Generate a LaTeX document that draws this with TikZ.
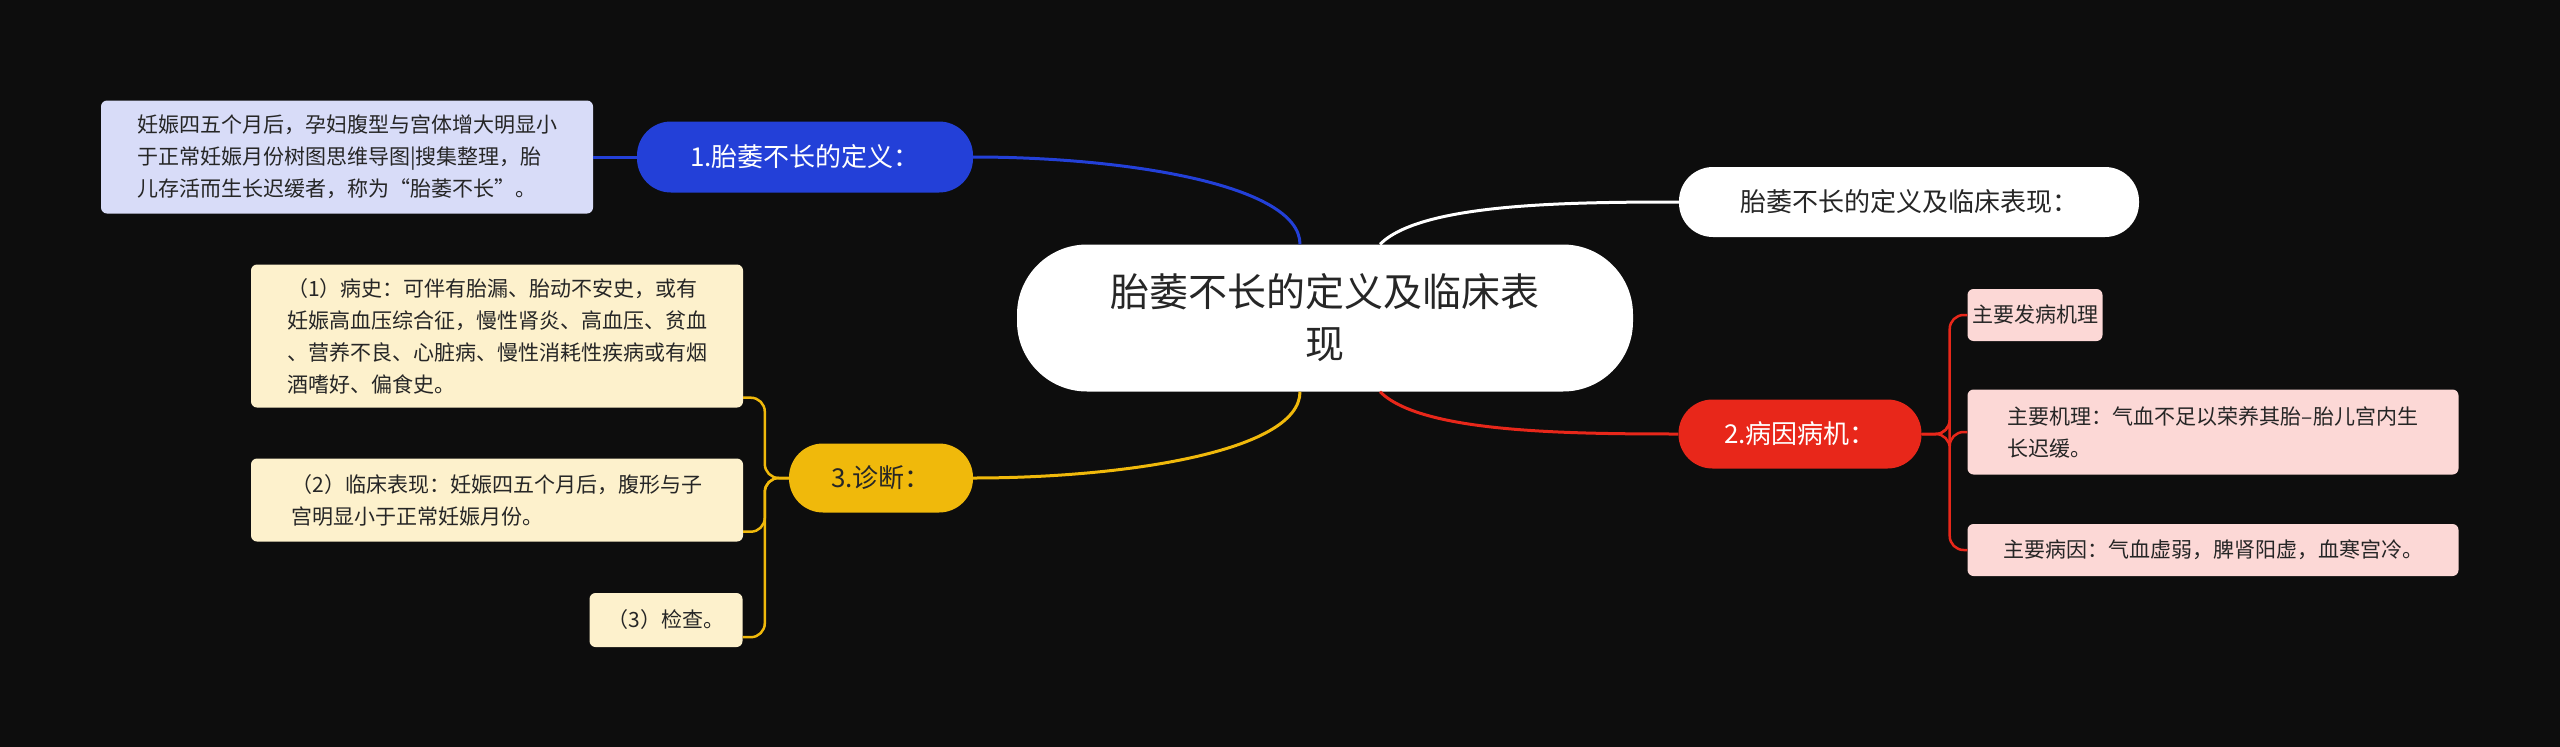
\documentclass[tikz,border=0pt]{standalone}
\usepackage{fontspec}
\setmainfont{Noto Sans CJK SC}
\begin{document}
\begin{tikzpicture}[x=1pt,y=-1pt,
  box/.style={draw=none,inner sep=0pt,align=center,rounded corners=#1},
  pill/.style={box=34pt,font=\fontsize{26}{32}\selectfont},
  leaf/.style={draw=none,rounded corners=6pt,inner sep=0pt,align=left,font=\fontsize{21}{32}\selectfont,text=black!85},
  conn/.style={line width=3pt}]
\useasboundingbox (0,0) rectangle (2560,747);
\fill[fill={rgb,255:red,13;green,13;blue,13}] (0,0) rectangle (2560,747);
\definecolor{cblue}{RGB}{35,64,216}
\definecolor{cred}{RGB}{232,39,26}
\definecolor{cyel}{RGB}{240,185,11}
\definecolor{clav}{RGB}{216,220,248}
\definecolor{cpink}{RGB}{252,216,214}
\definecolor{ccream}{RGB}{253,241,204}
% main nodes
\node[box=70pt,fill=white,minimum width=616pt,minimum height=147pt,font=\fontsize{39}{52}\selectfont,text=black!85] (c) at (1325,318) {胎萎不长的定义及临床表\\现};
\node[pill,fill=cblue,text=white,minimum width=336pt,minimum height=71pt] (n1) at (805,157) {1.胎萎不长的定义：};
\node[pill,fill=white,text=black!85,minimum width=460pt,minimum height=70pt] (nw) at (1909,202) {胎萎不长的定义及临床表现：};
\node[pill,fill=cred,text=white,minimum width=243pt,minimum height=69pt] (n2) at (1800,434) {2.病因病机：};
\node[pill,fill=cyel,text=black!85,minimum width=184pt,minimum height=69pt] (n3) at (881,478) {3.诊断：};
% leaves
\node[leaf,fill=clav,minimum width=492pt,minimum height=113pt] (d1) at (347,157) {妊娠四五个月后，孕妇腹型与宫体增大明显小\\于正常妊娠月份树图思维导图|搜集整理，胎\\儿存活而生长迟缓者，称为“胎萎不长”。};
\node[leaf,fill=cpink,minimum width=135pt,minimum height=52pt] (p1) at (2035,315) {主要发病机理};
\node[leaf,fill=cpink,minimum width=491pt,minimum height=85pt] (p2) at (2213,432) {主要机理：气血不足以荣养其胎--胎儿宫内生\\长迟缓。};
\node[leaf,fill=cpink,minimum width=491pt,minimum height=52pt] (p3) at (2213,550) {主要病因：气血虚弱，脾肾阳虚，血寒宫冷。};
\node[leaf,fill=ccream,minimum width=492pt,minimum height=143pt] (y1) at (497,336) {（1）病史：可伴有胎漏、胎动不安史，或有\\妊娠高血压综合征，慢性肾炎、高血压、贫血\\、营养不良、心脏病、慢性消耗性疾病或有烟\\酒嗜好、偏食史。};
\node[leaf,fill=ccream,minimum width=492pt,minimum height=83pt] (y2) at (497,500) {（2）临床表现：妊娠四五个月后，腹形与子\\宫明显小于正常妊娠月份。};
\node[leaf,fill=ccream,minimum width=153pt,minimum height=54pt] (y3) at (666,620) {（3）检查。};
% connectors
\draw[conn,cblue] ([xshift=-25pt]c.north) .. controls +(0,-60) and +(150,0) .. (n1.east);
\draw[conn,white] ([xshift=55pt]c.north) .. controls +(40,-40) and +(-120,0) .. (nw.west);
\draw[conn,cred] ([xshift=55pt]c.south) .. controls +(40,40) and +(-120,0) .. (n2.west);
\draw[conn,cyel] ([xshift=-25pt]c.south) .. controls +(0,60) and +(150,0) .. (n3.east);
\draw[conn,cblue] (n1.west) -- (d1.east);
\foreach \p in {p1,p2,p3}
  \draw[line width=2.5pt,cred,rounded corners=14pt] (n2.east) -- ++(28,0) |- (\p.west);
\foreach \p in {y1,y2,y3}
  \draw[line width=2.5pt,cyel,rounded corners=14pt] (n3.west) -- ++(-24,0) |- ([yshift=10pt]\p.south east);
\end{tikzpicture}
\end{document}
